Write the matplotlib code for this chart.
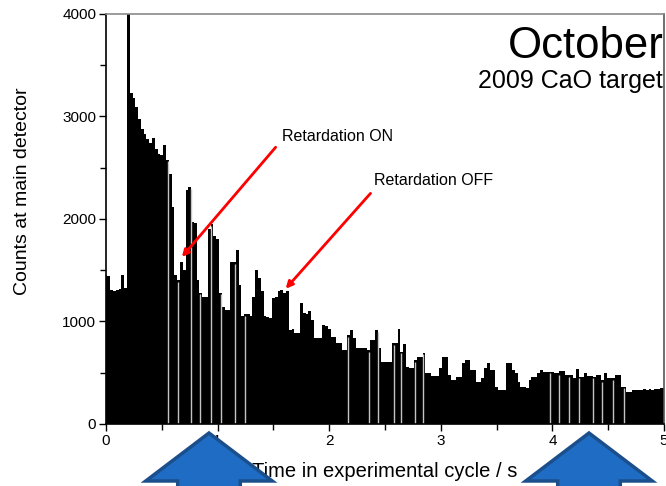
import numpy as np
import matplotlib.pyplot as plt
from matplotlib.patches import Polygon
from matplotlib.ticker import MultipleLocator

plt.rcParams['font.family'] = ['Liberation Sans', 'DejaVu Sans']

# detector counts per 25 ms time bin, bin centres from 0 to 5 s
bin_width = 0.025
counts = [
    1450, 1440, 1310, 1300, 1310, 1320, 1450, 1330, 4300, 3230,
    3180, 3090, 2980, 2880, 2830, 2780, 2740, 2790, 2680, 2630,
    2620, 2720, 2580, 2440, 2120, 1450, 1400, 1580, 1500, 2280,
    2310, 1970, 1960, 1400, 1280, 1240, 1240, 1900, 1950, 1830,
    1800, 1280, 1140, 1110, 1110, 1580, 1580, 1700, 1360, 1050,
    1070, 1070, 1050, 1240, 1500, 1420, 1300, 1050, 1040, 1030,
    1230, 1240, 1300, 1310, 1280, 1300, 920, 930, 890, 890,
    1180, 1080, 1070, 1100, 1015, 840, 840, 840, 966, 960,
    928, 852, 852, 790, 790, 722, 722, 868, 917, 839,
    741, 741, 741, 741, 722, 820, 820, 917, 740, 600,
    600, 600, 600, 787, 787, 927, 705, 780, 559, 546,
    546, 624, 657, 657, 693, 497, 497, 468, 468, 468,
    546, 657, 657, 478, 429, 429, 458, 458, 595, 624,
    624, 527, 527, 413, 413, 449, 546, 595, 527, 527,
    364, 332, 332, 332, 595, 595, 527, 497, 413, 364,
    364, 351, 429, 462, 462, 497, 527, 510, 510, 510,
    510, 497, 497, 520, 520, 478, 478, 478, 449, 537,
    462, 462, 497, 468, 468, 462, 478, 478, 429, 497,
    449, 449, 449, 478, 478, 364, 364, 312, 312, 332,
    332, 332, 332, 345, 332, 340, 330, 345, 340, 350,
    350,
]
times = np.arange(len(counts)) * bin_width

# times of the empty readout slices that show up as light seams
gap_times = [0.558, 0.645, 0.759, 0.843, 0.945, 1.033, 1.158, 1.249,
             2.164, 2.354, 2.437, 2.58, 2.646, 2.77, 2.844,
             3.98, 4.06, 4.15, 4.24, 4.366, 4.44, 4.545, 4.64]

# label text, label anchor (left, centre), arrow tail, arrow tip
notes = [
    ("Retardation ON", (1.58, 2800), (1.52, 2700), (0.68, 1630)),
    ("Retardation OFF", (2.40, 2380), (2.37, 2250), (1.61, 1320)),
]

fig = plt.figure(figsize=(6.66, 4.86), dpi=100)
ax = fig.add_axes([0.1592, 0.1276, 0.8378, 0.8436])

edges = np.append(times - bin_width / 2, times[-1] + bin_width / 2)
ax.stairs(counts, edges, fill=True, color='black', baseline=0)

counts_arr = np.array(counts)
gap_idx = np.clip(np.round(np.array(gap_times) / bin_width).astype(int),
                  0, len(counts) - 1)
ax.vlines(gap_times, 0, counts_arr[gap_idx] - 15, color='#c4c4c4', lw=1.0)

ax.set_xlim(0, 5)
ax.set_ylim(0, 4000)
ax.xaxis.set_major_locator(MultipleLocator(1))
ax.xaxis.set_minor_locator(MultipleLocator(0.5))
ax.yaxis.set_major_locator(MultipleLocator(1000))
ax.yaxis.set_minor_locator(MultipleLocator(500))
ax.tick_params(which='both', direction='out', top=False, right=False,
               labelsize=11, width=1, pad=2)
ax.tick_params(which='major', length=5)
ax.tick_params(which='minor', length=4)

ax.spines['top'].set_color('#8a8a8a')
ax.spines['right'].set_color('#555555')
for s in ax.spines.values():
    s.set_linewidth(1.2)

ax.set_ylabel("Counts at main detector", fontsize=14)
ax.yaxis.set_label_coords(-0.135, 0.568)
ax.set_xlabel("Time in experimental cycle / s", fontsize=14.5)
ax.xaxis.set_label_coords(0.5, -0.092)

for text, (lx, ly), tail, tip in notes:
    ax.text(lx, ly, text, fontsize=11.5, ha='left', va='center')
    ax.annotate('', xy=tip, xytext=tail,
                arrowprops=dict(arrowstyle='-|>', color='red', lw=2,
                                mutation_scale=10, shrinkA=0, shrinkB=0))

fig.text(0.997, 0.88, "October", fontsize=31.5, ha='right', va='baseline')
fig.text(0.995, 0.818, "2009 CaO target", fontsize=18, ha='right',
         va='baseline')

# two block arrows pointing up at the time axis
def up_arrow(xc):
    w_head = 0.095
    w_shaft = 0.047
    y_tip = 1 - 433 / 486
    y_base = 1 - 481 / 486
    pts = [(xc, y_tip), (xc + w_head, y_base), (xc + w_shaft, y_base),
           (xc + w_shaft, -0.05), (xc - w_shaft, -0.05),
           (xc - w_shaft, y_base), (xc - w_head, y_base)]
    fig.patches.append(Polygon(pts, closed=True, transform=fig.transFigure,
                               facecolor='#1f6cc4', edgecolor='#1b4f8c',
                               lw=2.5, zorder=5))

up_arrow(209 / 666)
up_arrow(589 / 666)

fig.savefig('out.png', dpi=100)
